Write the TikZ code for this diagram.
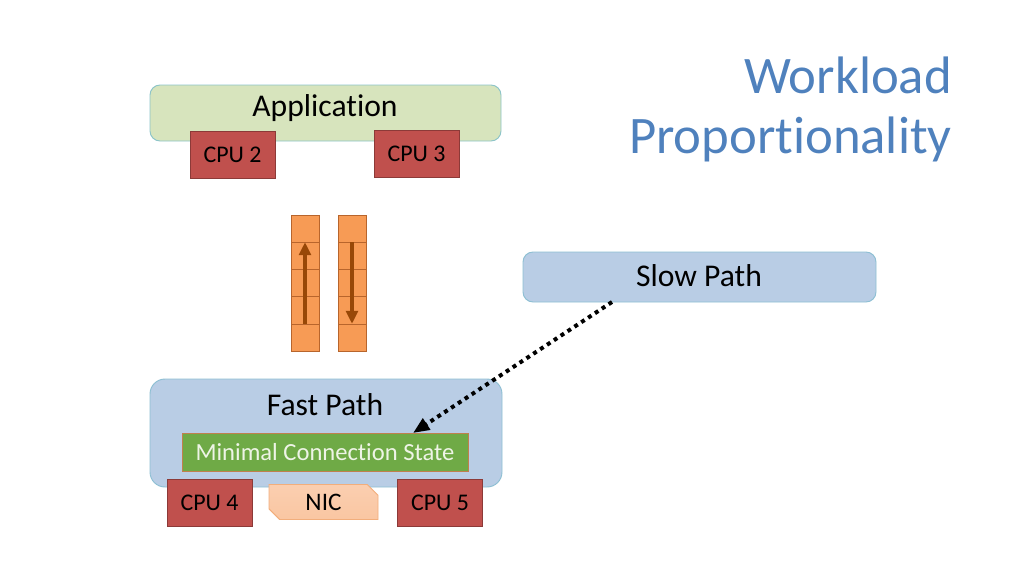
\documentclass[tikz,border=0pt]{standalone}
\usepackage{fontspec}
\setmainfont{Carlito}[RawFeature={-liga;-clig;-dlig}]
\usetikzlibrary{arrows.meta,shapes.misc}
\definecolor{appfill}{HTML}{D7E4BD}
\definecolor{appline}{HTML}{8CC4C8}
\definecolor{pathfill}{HTML}{B9CDE5}
\definecolor{pathline}{HTML}{8DBFD3}
\definecolor{cpufill}{HTML}{C0504D}
\definecolor{cpuline}{HTML}{8C3A38}
\definecolor{qfill}{HTML}{F79B55}
\definecolor{qline}{HTML}{B8652C}
\definecolor{qarrow}{HTML}{984807}
\definecolor{mcsfill}{HTML}{6FAA46}
\definecolor{mcsline}{HTML}{C0804D}
\definecolor{mcstext}{HTML}{EEF4E6}
\definecolor{nicfill}{HTML}{FAC6A2}
\definecolor{nicline}{HTML}{F2AE7C}
\definecolor{titleblue}{HTML}{4F81BD}
\tikzset{
  sz/.style 2 args={minimum width=#1*0.03cm, minimum height=#2*0.03cm, inner sep=0pt, outer sep=0pt},
  roundbox/.style={draw, line width=0.8pt, rounded corners=0.3cm},
  cpubox/.style={draw=cpuline, fill=cpufill, line width=0.8pt, sz={85}{47}, font=\fontsize{20.4}{24}\selectfont},
  bigtext/.style={font=\fontsize{27}{32}\selectfont, inner sep=0pt},
  qcell/.style={draw=qline, fill=qfill, line width=0.5pt, sz={28}{27.2}},
  qarr/.style={draw=qarrow, line width=2.8pt, -{Triangle[length=11pt,width=10pt]}},
  title/.style={font=\fontsize{45}{54}\selectfont, text=titleblue, anchor=base east, inner sep=0pt}
}
\begin{document}
\begin{tikzpicture}[x=0.03cm,y=-0.03cm]
\useasboundingbox (0,0) rectangle (1024,576);
% title
\node[title] (t1) at (952,93) {Workload};
\node[title] (t2) at (952,153) {Proportionality};
% application
\node[roundbox, draw=appline, fill=appfill, sz={351}{56}] (app) at (325.5,113) {};
\node[bigtext] (apptext) at (325,108) {Application};
\node[cpubox] (cpu2) at (232.5,154.5) {CPU 2};
\node[cpubox] (cpu3) at (416.5,153.5) {CPU 3};
% queues
\foreach \i in {0,...,4}{
  \node[qcell] (l\i) at (305,228.6+27.2*\i) {};
  \node[qcell] (r\i) at (352,228.6+27.2*\i) {};
}
\draw[qarr] (l4.north) -- (l1.north);
\draw[qarr] (r1.north) -- (r4.north);
% slow path
\node[roundbox, draw=pathline, fill=pathfill, sz={353}{50}] (slow) at (699.5,277) {};
\node[bigtext] (slowtext) at (699,276) {Slow Path};
% fast path
\node[roundbox, draw=pathline, fill=pathfill, sz={352}{108}, rounded corners=0.45cm] (fast) at (326,433) {};
\node[bigtext] (fasttext) at (325,405) {Fast Path};
\node[draw=mcsline, fill=mcsfill, line width=0.6pt, sz={286}{38}, text=mcstext, font=\fontsize{21}{25}\selectfont] (mcs) at (325,452) {Minimal Connection State};
\node[cpubox] (cpu4) at (209.5,502.5) {CPU 4};
\node[cpubox] (cpu5) at (440,502.5) {CPU 5};
\node[chamfered rectangle, chamfered rectangle corners={north east,south west}, chamfered rectangle xsep=0.16cm, chamfered rectangle ysep=0.16cm, draw=nicline, top color=nicfill!85!white, bottom color=nicfill, line width=0.8pt, sz={109}{35}, font=\fontsize{21.5}{25}\selectfont] (nic) at (323.5,502) {NIC};
% dotted arrow
\draw[line width=3.4pt, dash pattern=on 3.4pt off 3.6pt, -{Triangle[length=14pt,width=11pt]}]
  ([xshift=89*0.03cm]slow.south west) -- ([xshift=231*0.03cm]mcs.north west);
\end{tikzpicture}
\end{document}
